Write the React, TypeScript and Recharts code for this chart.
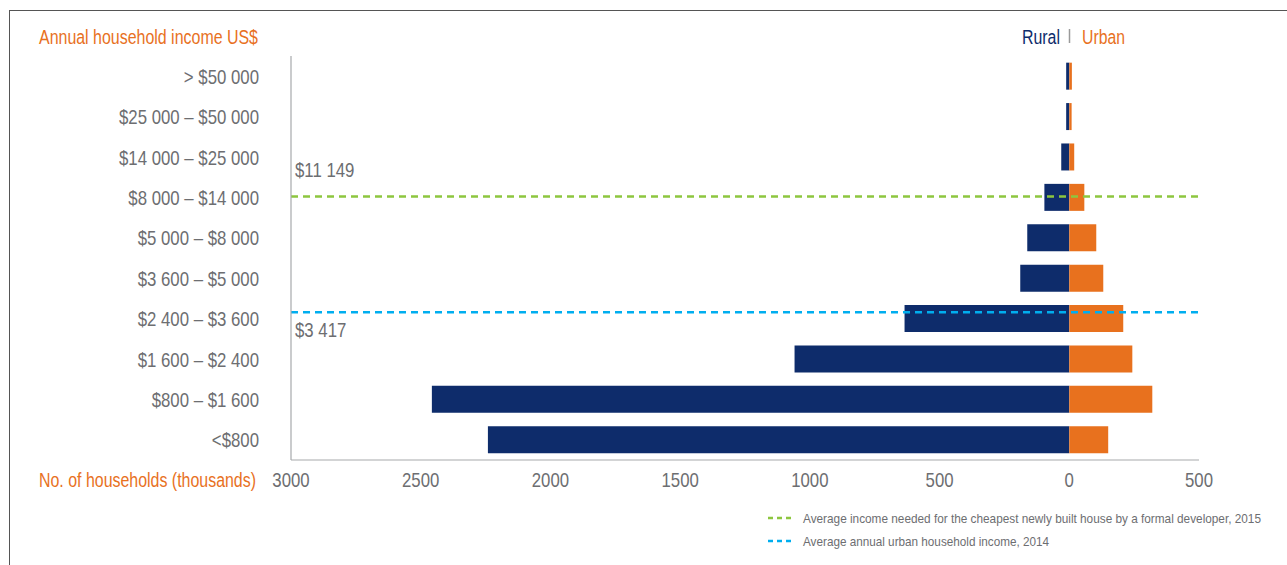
import React from 'react';
import { BarChart, Bar, XAxis, YAxis, ReferenceLine } from 'recharts';

const categories = [
  '> $50 000',
  '$25 000 – $50 000',
  '$14 000 – $25 000',
  '$8 000 – $14 000',
  '$5 000 – $8 000',
  '$3 600 – $5 000',
  '$2 400 – $3 600',
  '$1 600 – $2 400',
  '$800 – $1 600',
  '<$800',
];
const ruralValues = [12, 12, 31, 96, 162, 189, 635, 1059, 2457, 2241];
const urbanValues = [10, 9, 19, 58, 104, 131, 208, 243, 320, 150];
const xTicks = [-3000, -2500, -2000, -1500, -1000, -500, 0, 500];

// reference lines: income band they fall in, and fraction of the way down that band
const developerBand = '$8 000 – $14 000';
const developerFrac = 0.475;
const developerLabel = '$11 149';
const urbanIncomeBand = '$2 400 – $3 600';
const urbanIncomeFrac = 0.34;
const urbanIncomeLabel = '$3 417';

const data = categories.map((c, i) => ({
  name: c,
  rural: -ruralValues[i],
  urban: urbanValues[i],
}));

const W = 1287;
const H = 565;
const MARGIN = { top: 56, right: 88, bottom: 75, left: 0 };
const X_AXIS_H = 30;
const BAND = (H - MARGIN.top - MARGIN.bottom - X_AXIS_H) / categories.length;

const FONT = '"Liberation Sans", Arial, Helvetica, sans-serif';
const SX = 0.84;
const GRAY = '#6d6e71';
const ORANGE = '#e8711e';
const NAVY = '#0e2c6b';
const GREEN = '#8dc63f';
const BLUE = '#00aeef';

const NText = ({ x, y, anchor = 'start', size = 20, fill = GRAY, children }: any) => (
  <text
    transform={`translate(${x} ${y}) scale(${SX} 1)`}
    textAnchor={anchor}
    fontSize={size}
    fill={fill}
    fontFamily={FONT}
  >
    {children}
  </text>
);

const YTick = (props: any) => {
  const { x, y, payload } = props;
  return <NText x={x - 24} y={y + 7.5} anchor="end">{payload.value}</NText>;
};

const XTick = (props: any) => {
  const { x, y, payload } = props;
  return <NText x={x} y={y + 18.5} anchor="middle">{Math.abs(payload.value)}</NText>;
};

const refShape = (frac: number) => (props: any) => {
  const { x1, y1, x2, y2, stroke, strokeWidth, strokeDasharray } = props;
  const dy = frac * BAND;
  return (
    <line
      x1={x1}
      x2={x2}
      y1={y1 + dy}
      y2={y2 + dy}
      stroke={stroke}
      strokeWidth={strokeWidth}
      strokeDasharray={strokeDasharray}
    />
  );
};

const refLabel = (text: string, frac: number, offset: number) => (props: any) => {
  const vb = props.viewBox || {};
  return <NText x={vb.x + 4} y={vb.y + frac * BAND + offset}>{text}</NText>;
};

const SText = ({ x, y, len, size = 20, fill = GRAY, children }: any) => (
  <text x={x} y={y} fontSize={size} fill={fill} fontFamily={FONT} textLength={len} lengthAdjust="spacingAndGlyphs">
    {children}
  </text>
);

export default function App() {
  return (
    <div style={{ position: 'absolute', left: 0, top: 0, width: W, height: H, background: '#fff', overflow: 'hidden' }}>
      <div style={{ position: 'absolute', left: 9, top: 10, width: 1300, height: 600, borderTop: '1.5px solid #555', borderLeft: '1.5px solid #555' }} />
      <div style={{ position: 'absolute', left: 0, top: 0 }}>
        <BarChart
          width={W}
          height={H}
          data={data}
          layout="vertical"
          stackOffset="sign"
          barCategoryGap="16.5%"
          margin={MARGIN}
        >
          <XAxis
            type="number"
            domain={[-3000, 500]}
            ticks={xTicks}
            tick={<XTick />}
            tickLine={false}
            axisLine={{ stroke: '#a7a9ac', strokeWidth: 1.2 }}
            height={X_AXIS_H}
            interval={0}
            allowDataOverflow
          />
          <YAxis
            type="category"
            dataKey="name"
            width={291}
            tick={<YTick />}
            tickLine={false}
            axisLine={{ stroke: '#a7a9ac', strokeWidth: 1.2 }}
            interval={0}
          />
          <Bar dataKey="rural" stackId="s" fill={NAVY} isAnimationActive={false} />
          <Bar dataKey="urban" stackId="s" fill={ORANGE} isAnimationActive={false} />
          <ReferenceLine
            y={developerBand}
            position="start"
            stroke={GREEN}
            strokeWidth={2.5}
            strokeDasharray="7 5"
            shape={refShape(developerFrac)}
            label={refLabel(developerLabel, developerFrac, -19)}
          />
          <ReferenceLine
            y={urbanIncomeBand}
            position="start"
            stroke={BLUE}
            strokeWidth={2.5}
            strokeDasharray="7 5"
            shape={refShape(urbanIncomeFrac)}
            label={refLabel(urbanIncomeLabel, urbanIncomeFrac, 25)}
          />
        </BarChart>
      </div>
      <svg style={{ position: 'absolute', left: 0, top: 0 }} width={W} height={H}>
        <SText x={39} y={43.5} len={219} fill={ORANGE}>Annual household income US$</SText>
        <SText x={39} y={486.5} len={217} fill={ORANGE}>No. of households (thousands)</SText>
        <SText x={1022} y={43.5} len={38} fill={NAVY}>Rural</SText>
        <line x1={1069.5} x2={1069.5} y1={29} y2={43} stroke="#9a9a9a" strokeWidth={1.5} />
        <SText x={1082} y={43.5} len={43} fill={ORANGE}>Urban</SText>
        <line x1={768} x2={792} y1={518} y2={518} stroke={GREEN} strokeWidth={2.5} strokeDasharray="5 4" />
        <SText x={803} y={522.5} len={458} size={13}>
          Average income needed for the cheapest newly built house by a formal developer, 2015
        </SText>
        <line x1={768} x2={792} y1={541} y2={541} stroke={BLUE} strokeWidth={2.5} strokeDasharray="5 4" />
        <SText x={803} y={545.5} len={246} size={13}>
          Average annual urban household income, 2014
        </SText>
      </svg>
    </div>
  );
}
